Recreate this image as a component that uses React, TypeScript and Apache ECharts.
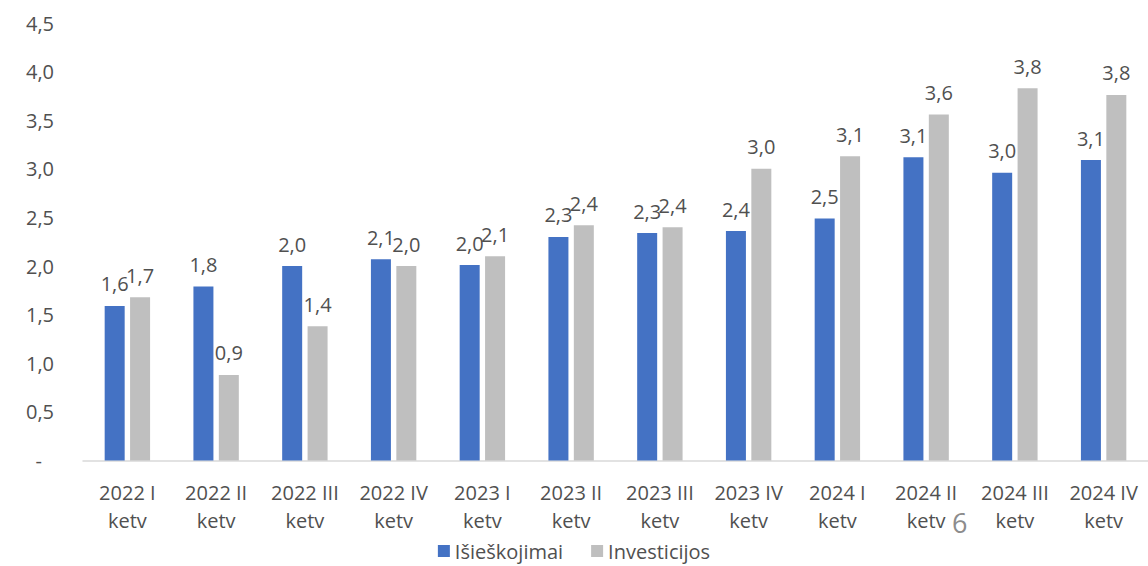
import React, { useEffect, useRef } from "react";
import * as echarts from "echarts";

const categories = [
  "2022 I\nketv", "2022 II\nketv", "2022 III\nketv", "2022 IV\nketv",
  "2023 I\nketv", "2023 II\nketv", "2023 III\nketv", "2023 IV\nketv",
  "2024 I\nketv", "2024 II\nketv", "2024 III\nketv", "2024 IV\nketv",
];
const isieskojimai = [1.59, 1.79, 2.0, 2.07, 2.01, 2.3, 2.34, 2.36, 2.49, 3.12, 2.96, 3.09];
const investicijos = [1.68, 0.88, 1.38, 2.0, 2.1, 2.42, 2.4, 3.0, 3.13, 3.56, 3.83, 3.76];
const seriesNames = ["Išieškojimai", "Investicijos"];
const pageNumber = "6";

const FONT = "'Open Sans', sans-serif";
const TEXT = "#505050";
const FS = 20;

const fmt = (v: number) => v.toFixed(1).replace(".", ",");

export default function App() {
  const ref = useRef<HTMLDivElement>(null);
  useEffect(() => {
    document.body.style.margin = "0";
    const chart = echarts.init(ref.current!, null, { renderer: "svg" });
    const labelCfg = {
      show: true,
      position: "top" as const,
      distance: 12,
      color: TEXT,
      fontFamily: FONT,
      fontSize: FS,
      formatter: (p: any) => fmt(p.value),
    };
    chart.setOption({
      animation: false,
      textStyle: { fontFamily: FONT },
      grid: { left: 83, top: 23, width: 1073, height: 437.5, containLabel: false },
      legend: {
        bottom: 0,
        left: "center",
        itemWidth: 12,
        itemHeight: 12,
        itemGap: 28,
        icon: "rect",
        textStyle: { color: TEXT, fontFamily: FONT, fontSize: FS },
        data: seriesNames,
      },
      xAxis: {
        type: "category",
        data: categories,
        axisLine: { show: true, lineStyle: { color: "#d9d9d9", width: 1.5 } },
        axisTick: { show: false },
        axisLabel: {
          color: TEXT,
          fontFamily: FONT,
          fontSize: FS,
          lineHeight: 28,
          margin: 18,
          interval: 0,
        },
      },
      yAxis: {
        type: "value",
        min: 0,
        max: 4.5,
        interval: 0.5,
        splitLine: { show: false },
        axisLine: { show: false },
        axisTick: { show: false },
        axisLabel: {
          color: TEXT,
          fontFamily: FONT,
          fontSize: FS,
          margin: 29,
          formatter: (v: number) => (v === 0 ? "{d|-}" : fmt(v)),
          rich: { d: { color: TEXT, fontFamily: FONT, fontSize: FS, padding: [0, 12, 0, 0] } },
        },
      },
      series: [
        {
          name: seriesNames[0],
          type: "bar",
          data: isieskojimai,
          barWidth: 20,
          barGap: "27%",
          itemStyle: { color: "#4472C4" },
          label: labelCfg,
        },
        {
          name: seriesNames[1],
          type: "bar",
          data: investicijos,
          barWidth: 20,
          itemStyle: { color: "#BFBFBF" },
          label: labelCfg,
        },
      ],
      graphic: [
        {
          type: "text",
          left: 952,
          top: 509,
          style: { text: pageNumber, fill: "#8c8c8c", font: `27px ${FONT}` },
        },
      ],
    });
    return () => chart.dispose();
  }, []);
  return <div ref={ref} style={{ position: "absolute", left: 0, top: 0, width: 1148, height: 566 }} />;
}
